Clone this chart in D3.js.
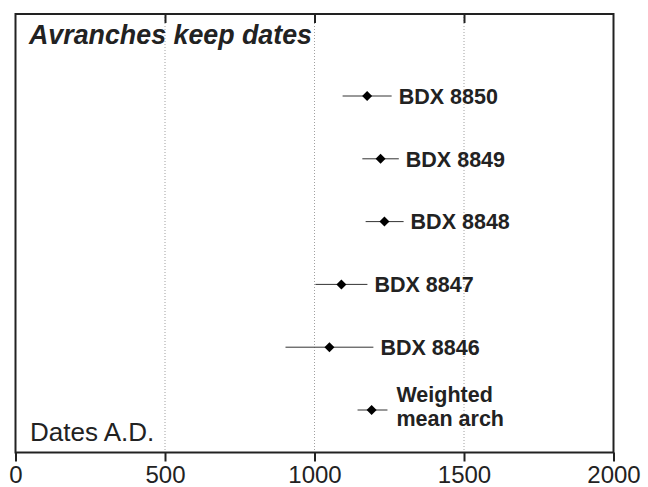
<!DOCTYPE html>
<html>
<head>
<meta charset="utf-8">
<script src="https://cdn.jsdelivr.net/npm/d3@7"></script>
<style>
  html, body { margin: 0; padding: 0; background: #fff; }
  svg { display: block; }
</style>
</head>
<body>
<svg id="chart" width="648" height="487"></svg>
<script>
// Radiocarbon determinations, calibrated ranges (years A.D.)
const samples = ["BDX 8850", "BDX 8849", "BDX 8848", "BDX 8847", "BDX 8846", "Weighted mean arch"];
const midDates = [1176, 1221, 1234, 1090, 1050, 1191];
const lowDates = [1094, 1160, 1171, 1003, 903, 1144];
const highDates = [1258, 1282, 1298, 1177, 1197, 1244];
const xTicks = [0, 500, 1000, 1500, 2000];

const svg = d3.select("#chart");
const plotLeft = 15.5, plotRight = 613.5, plotTop = 14, plotBottom = 452.5;

const x = d3.scaleLinear().domain([0, 2000]).range([plotLeft, plotRight]);
const y = d3.scalePoint().domain(samples).range([96, 410]);

const rows = samples.map((s, i) => ({ name: s, mid: midDates[i], lo: lowDates[i], hi: highDates[i] }));

// dotted vertical gridlines
svg.append("g")
  .selectAll("line")
  .data(xTicks.slice(1, -1))
  .join("line")
  .attr("x1", d => x(d)).attr("x2", d => x(d))
  .attr("y1", plotTop).attr("y2", plotBottom)
  .attr("stroke", "#a0a0a0")
  .attr("stroke-width", 1)
  .attr("stroke-dasharray", "1,2");

// bottom axis
const xAxis = svg.append("g")
  .attr("transform", `translate(0,${plotBottom})`)
  .call(d3.axisBottom(x).tickValues(xTicks).tickFormat(d3.format("d"))
    .tickSize(9).tickPadding(4).tickSizeOuter(0));
xAxis.select(".domain").remove();
xAxis.selectAll(".tick line").attr("stroke", "#222").attr("stroke-width", 2);
xAxis.selectAll(".tick text")
  .attr("font-family", "Liberation Sans, Arial, sans-serif")
  .attr("font-size", 24)
  .attr("fill", "#222");

// inward ticks along the top edge
const topAxis = svg.append("g")
  .attr("transform", `translate(0,${plotTop})`)
  .call(d3.axisBottom(x).tickValues(xTicks.slice(1, -1)).tickSize(9).tickFormat(""));
topAxis.select(".domain").remove();
topAxis.selectAll(".tick line").attr("stroke", "#222").attr("stroke-width", 2);

// frame
svg.append("rect")
  .attr("x", plotLeft).attr("y", plotTop)
  .attr("width", plotRight - plotLeft).attr("height", plotBottom - plotTop)
  .attr("fill", "none")
  .attr("stroke", "#222")
  .attr("stroke-width", 2);

// range lines
const g = svg.append("g");
g.selectAll("line.range")
  .data(rows)
  .join("line")
  .attr("class", "range")
  .attr("x1", d => x(d.lo)).attr("x2", d => x(d.hi))
  .attr("y1", d => y(d.name)).attr("y2", d => y(d.name))
  .attr("stroke", "#333")
  .attr("stroke-width", 1);

// diamond markers
g.selectAll("path.mark")
  .data(rows)
  .join("path")
  .attr("class", "mark")
  .attr("d", d3.symbol(d3.symbolDiamond2, 64))
  .attr("transform", d => `translate(${x(d.mid)},${y(d.name)})`)
  .attr("fill", "#000");

// sample labels
g.selectAll("text.lab")
  .data(rows)
  .join("text")
  .attr("class", "lab")
  .attr("font-family", "Liberation Sans, Arial, sans-serif")
  .attr("font-weight", "bold")
  .attr("font-size", 21.5)
  .attr("fill", "#222")
  .each(function(d) {
    const t = d3.select(this);
    const words = d.name.startsWith("Weighted") ? ["Weighted", "mean arch"] : [d.name];
    const lx = x(d.hi) + (words.length > 1 ? 9 : 7);
    if (words.length === 1) {
      t.attr("x", lx).attr("y", y(d.name) + 7.7).text(words[0]);
    } else {
      t.attr("x", lx).attr("y", y(d.name) - 8);
      t.append("tspan").attr("x", lx).text(words[0]);
      t.append("tspan").attr("x", lx).attr("dy", 24).text(words[1]);
    }
  });

// title
svg.append("text")
  .attr("x", 29).attr("y", 44)
  .attr("font-family", "Liberation Sans, Arial, sans-serif")
  .attr("font-weight", "bold")
  .attr("font-style", "italic")
  .attr("font-size", 26.8)
  .attr("fill", "#222")
  .text("Avranches keep dates");

// axis caption
svg.append("text")
  .attr("x", 30).attr("y", 441)
  .attr("font-family", "Liberation Sans, Arial, sans-serif")
  .attr("font-size", 26)
  .attr("fill", "#222")
  .text("Dates A.D.");
</script>
</body>
</html>
